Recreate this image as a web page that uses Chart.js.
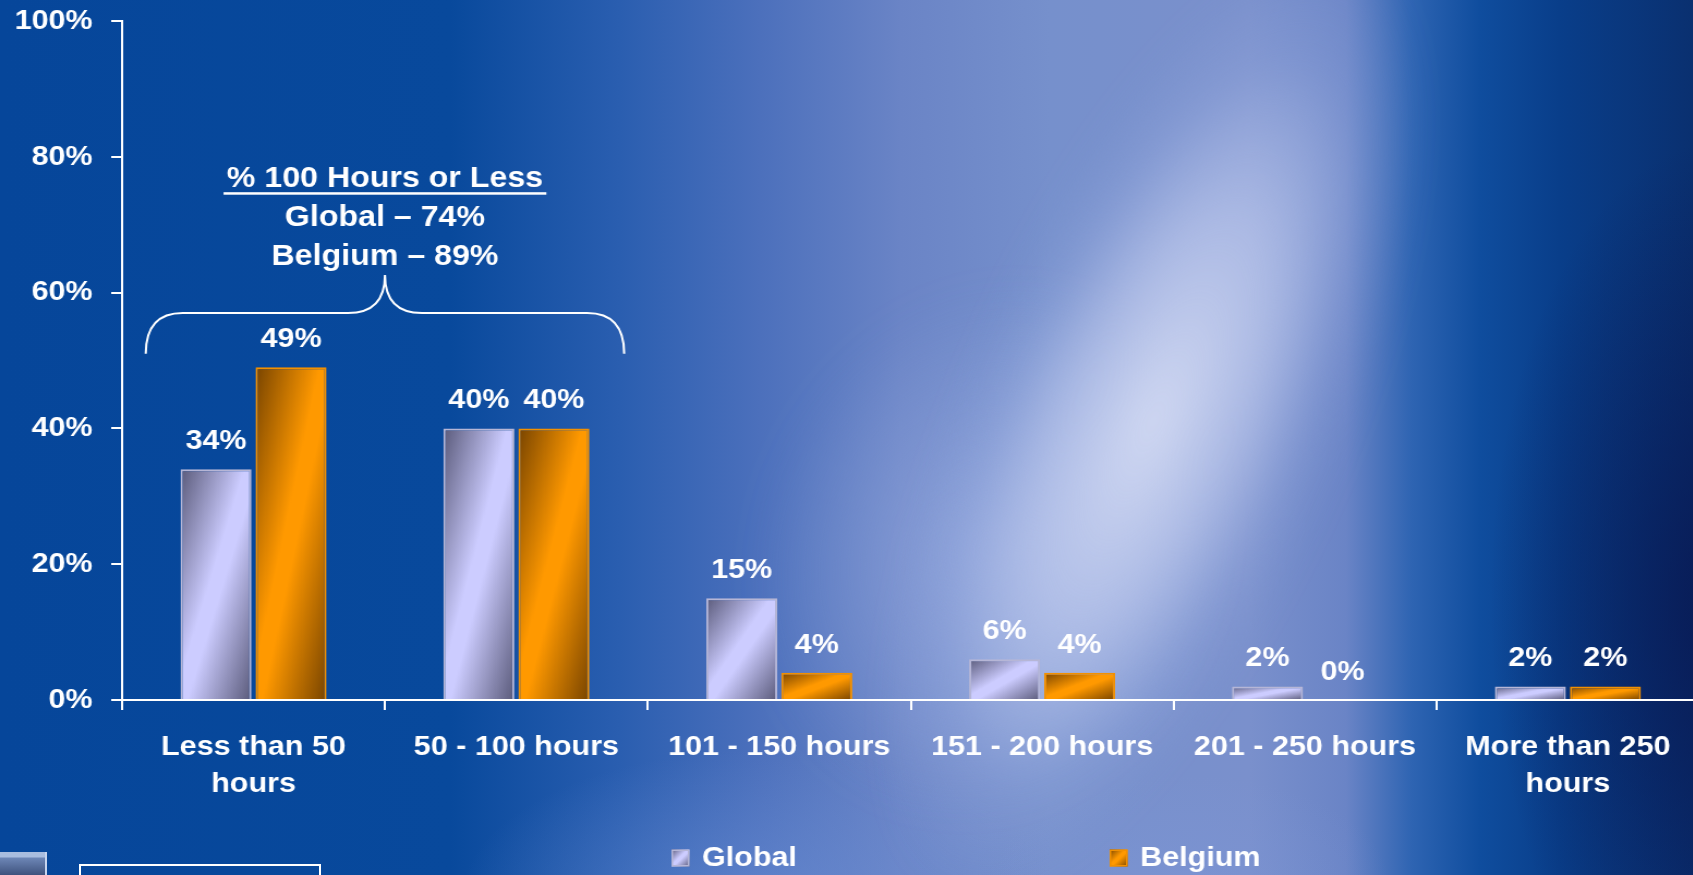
<!DOCTYPE html>
<html lang="en">
<head>
<meta charset="UTF-8">
<title>Hours Distribution – Global vs Belgium</title>
<script src="https://cdn.jsdelivr.net/npm/chart.js"></script>
<style>
  html, body { margin: 0; padding: 0; overflow: hidden; }
  body { width: 1693px; height: 875px; position: relative; background: #08489c; }
  #bg {
    position: absolute; inset: 0; overflow: hidden;
    background:
      radial-gradient(ellipse 300px 150px at 760px 900px, rgba(110,145,215,0.55), rgba(110,145,215,0)),
      radial-gradient(ellipse 200px 110px at 1190px 885px, rgba(125,150,215,0.5), rgba(125,150,215,0)),
      radial-gradient(ellipse 230px 460px at 1720px 600px, rgba(8,22,80,0.8), rgba(8,22,80,0)),
      linear-gradient(90deg, #06469a 0%, #08499c 26.6%, #2a5eb0 36.6%, #4c70bc 44.9%, #6a84c6 53.2%,
        #7690cc 62%, #7a90cc 73.8%, #6a84c6 79.5%, #2e64b2 83.4%, #0f4d9e 87.4%, #093e8a 92.1%, #0a3070 100%);
  }
  #bg .haze {
    position: absolute; left: 760px; top: 280px; width: 460px; height: 540px;
    transform: rotate(24deg);
    background: radial-gradient(ellipse at 50% 50%, rgba(160,178,228,0.6) 0%, rgba(150,170,225,0) 70%);
    filter: blur(20px);
  }
  #bg .streak {
    position: absolute; left: 950px; top: -70px; width: 390px; height: 1020px;
    transform: rotate(24deg);
    background: radial-gradient(ellipse at 50% 48%, rgba(218,224,246,0.9) 0%, rgba(196,206,240,0.65) 30%, rgba(160,178,228,0.25) 52%, rgba(150,170,225,0) 68%);
    filter: blur(16px);
  }
  #stage {
    position: absolute; left: 0; top: 0; width: 1560px; height: 875px;
    transform: scaleX(1.09); transform-origin: 0 0;
  }
  .corner-icon {
    position: absolute; left: 0; top: 852px; width: 45px; height: 30px;
    background: linear-gradient(#a9bddf 0, #a9bddf 5px, #6d86b6 6px, #2b3d66 100%);
    border-right: 2px solid #c6d4ee;
  }
  .corner-box {
    position: absolute; left: 79px; top: 864px; width: 238px; height: 30px;
    border: 2px solid #fff;
  }
</style>
</head>
<body>
<div id="bg"><div class="haze"></div><div class="streak"></div></div>
<div id="stage"><canvas id="hoursChart"></canvas></div>
<div class="corner-icon"></div>
<div class="corner-box"></div>

<script>
// categories and values (percent of respondents)
const categories = [['Less than 50', 'hours'], '50 - 100 hours', '101 - 150 hours',
  '151 - 200 hours', '201 - 250 hours', ['More than 250', 'hours']];
const globalShare = [34, 40, 15, 6, 2, 2];
const belgiumShare = [49, 40, 4, 4, 0, 2];
const yTicks = [0, 20, 40, 60, 80, 100];
const noteLines = ['% 100 Hours or Less', 'Global – 74%', 'Belgium – 89%'];

const FONT = 'Arial, "Liberation Sans", sans-serif';
const CAT_PCT = 0.571;
const BAR_PCT = 0.946;

const palette = [
  { dark: '#5a5a7a', light: '#ccccff', border: '#b6b6d6' },
  { dark: '#784400', light: '#ff9900', border: '#f29000' }
];

// diagonal shading: dark top-left and bottom-right, light band along the other diagonal
function diagGradient(c2d, x0, top, w, h, p) {
  const t = 2 * w * h / (w * w + h * h);
  const g = c2d.createLinearGradient(x0, top, x0 + h * t, top + w * t);
  g.addColorStop(0, p.dark);
  g.addColorStop(0.45, p.light);
  g.addColorStop(0.55, p.light);
  g.addColorStop(1, p.dark);
  return g;
}

function barFill(ctx) {
  const chart = ctx.chart;
  const p = palette[ctx.datasetIndex];
  if (!chart.chartArea || ctx.type !== 'data') return p.light;
  const xs = chart.scales.x, ys = chart.scales.y;
  const cw = xs.width / categories.length;
  const slot = cw * CAT_PCT / 2;
  const w = slot * BAR_PCT;
  const cx = xs.getPixelForValue(ctx.dataIndex) + (ctx.datasetIndex - 0.5) * slot;
  const top = ys.getPixelForValue(ctx.raw);
  const h = Math.max(ys.getPixelForValue(0) - top, 1);
  return diagGradient(chart.ctx, cx - w / 2, top, w, h, p);
}

// value labels above each bar
const valueLabels = {
  id: 'valueLabels',
  afterDatasetsDraw(chart) {
    const c = chart.ctx;
    c.save();
    c.font = 'bold 28px ' + FONT;
    c.fillStyle = '#fff';
    c.textAlign = 'center';
    c.textBaseline = 'middle';
    chart.data.datasets.forEach((ds, di) => {
      chart.getDatasetMeta(di).data.forEach((bar, i) => {
        c.fillText(ds.data[i] + '%', bar.x, bar.y - 28);
      });
    });
    c.restore();
  }
};

// brace over the first two groups with the summary text
const hoursNote = {
  id: 'hoursNote',
  afterDraw(chart) {
    const c = chart.ctx, x = chart.scales.x, y = chart.scales.y;
    const x0 = x.getPixelForValue(0), x1 = x.getPixelForValue(1);
    const cw = x1 - x0;
    const mid = (x0 + x1) / 2;
    const left = x0 - 0.41 * cw, right = x1 + 0.41 * cw;
    const yEnd = y.getPixelForValue(51), yBar = y.getPixelForValue(57), yTip = y.getPixelForValue(62.6);
    const r = 34;
    c.save();
    c.strokeStyle = '#fff';
    c.lineWidth = 2;
    c.beginPath();
    c.moveTo(left, yEnd);
    c.quadraticCurveTo(left, yBar, left + r, yBar);
    c.lineTo(mid - r, yBar);
    c.quadraticCurveTo(mid, yBar, mid, yTip);
    c.quadraticCurveTo(mid, yBar, mid + r, yBar);
    c.lineTo(right - r, yBar);
    c.quadraticCurveTo(right, yBar, right, yEnd);
    c.stroke();

    c.font = 'bold 29.5px ' + FONT;
    c.fillStyle = '#fff';
    c.textAlign = 'center';
    c.textBaseline = 'middle';
    const lineY = [76.7, 71.0, 65.3].map(v => y.getPixelForValue(v));
    noteLines.forEach((t, i) => c.fillText(t, mid, lineY[i]));
    const tw = c.measureText(noteLines[0]).width;
    c.fillRect(mid - tw / 2 - 3, lineY[0] + 13, tw + 6, 2.5);
    c.restore();
  }
};

// legend row at the bottom
const legendRow = {
  id: 'legendRow',
  afterDraw(chart) {
    const c = chart.ctx;
    const xs = [616, 1018];
    const yMid = 858, box = 16.5;
    c.save();
    c.font = 'bold 28px ' + FONT;
    c.textBaseline = 'middle';
    c.textAlign = 'left';
    chart.data.datasets.forEach((ds, i) => {
      const p = palette[i];
      c.fillStyle = diagGradient(c, xs[i], yMid - 8.5, box, 17, p);
      c.fillRect(xs[i], yMid - 8.5, box, 17);
      c.strokeStyle = p.border;
      c.lineWidth = 1.5;
      c.strokeRect(xs[i] + 0.75, yMid - 7.75, box - 1.5, 15.5);
      c.fillStyle = '#fff';
      c.fillText(ds.label, xs[i] + 28, yMid);
    });
    c.restore();
  }
};

new Chart(document.getElementById('hoursChart'), {
  type: 'bar',
  data: {
    labels: categories,
    datasets: [
      {
        label: 'Global',
        data: globalShare,
        backgroundColor: barFill,
        borderColor: palette[0].border,
        borderWidth: ctx => (ctx.raw ? 2 : 0)
      },
      {
        label: 'Belgium',
        data: belgiumShare,
        backgroundColor: barFill,
        borderColor: palette[1].border,
        borderWidth: ctx => (ctx.raw ? 2 : 0)
      }
    ]
  },
  options: {
    responsive: true,
    maintainAspectRatio: false,
    animation: false,
    categoryPercentage: CAT_PCT,
    barPercentage: BAR_PCT,
    layout: { padding: { left: 13, right: 1, top: 21, bottom: 75 } },
    plugins: {
      legend: { display: false },
      tooltip: { enabled: false }
    },
    scales: {
      x: {
        offset: true,
        border: { color: '#fff', width: 2 },
        grid: { offset: true, drawOnChartArea: false, tickLength: 10, color: '#fff', lineWidth: 2 },
        afterFit: scale => { scale.height = 100; },
        ticks: {
          color: '#fff',
          padding: 19,
          maxRotation: 0,
          autoSkip: false,
          font: { family: FONT, size: 28, weight: 'bold', lineHeight: 1.32 }
        }
      },
      y: {
        min: 0,
        max: 100,
        border: { color: '#fff', width: 2 },
        grid: { drawOnChartArea: false, tickLength: 10, color: '#fff', lineWidth: 2 },
        afterBuildTicks: scale => { scale.ticks = yTicks.map(v => ({ value: v })); },
        afterFit: scale => {
          scale.width = 99;
          scale.paddingTop = 14;
          scale.paddingBottom = 14;
        },
        ticks: {
          color: '#fff',
          padding: 17,
          font: { family: FONT, size: 28, weight: 'bold', lineHeight: 1 },
          callback: v => v + '%'
        }
      }
    }
  },
  plugins: [valueLabels, hoursNote, legendRow]
});
</script>
</body>
</html>
